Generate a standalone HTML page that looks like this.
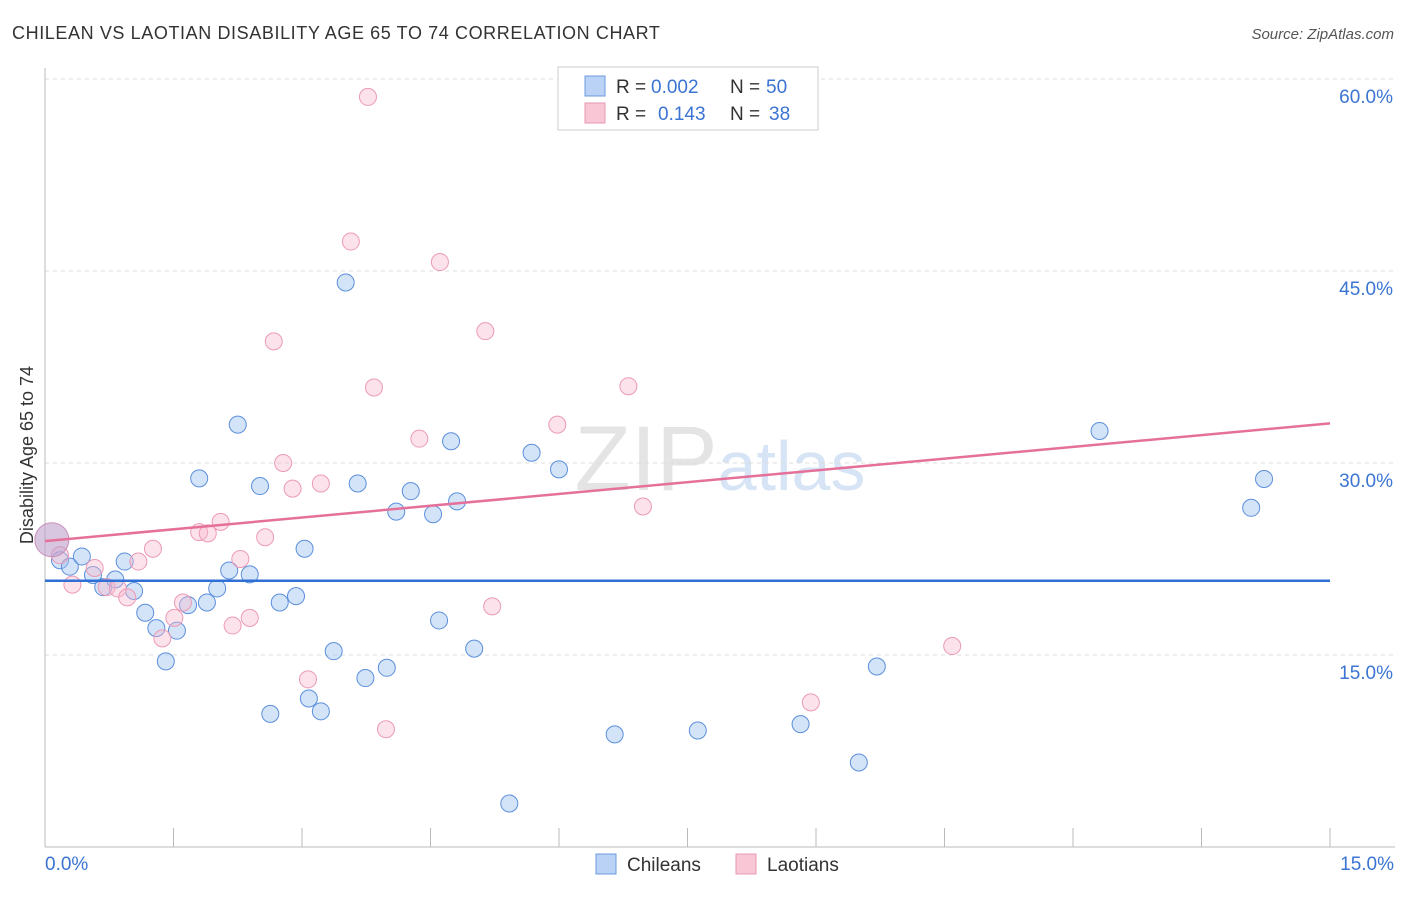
<!DOCTYPE html>
<html><head><meta charset="utf-8"><style>
body{margin:0;background:#fff;font-family:"Liberation Sans",sans-serif}
svg text{font-family:"Liberation Sans",sans-serif}
</style></head><body>
<svg width="1406" height="892" viewBox="0 0 1406 892">
<text x="12" y="39" font-size="18" letter-spacing="0.6" fill="#333">CHILEAN VS LAOTIAN DISABILITY AGE 65 TO 74 CORRELATION CHART</text>
<text x="1394" y="39" font-size="15" fill="#555" text-anchor="end" font-style="italic">Source: ZipAtlas.com</text>
<text x="720" y="490" font-size="92" fill="#e4e4e4" text-anchor="middle" font-family="Liberation Serif">ZIP<tspan fill="#d6e4f5" font-family="Liberation Sans" font-size="70">atlas</tspan></text>
<g id="grid"></g>
<line x1="45" y1="68" x2="45" y2="847" stroke="#bbb"/>
<line x1="45" y1="847" x2="1395" y2="847" stroke="#bbb"/>
<text transform="translate(33,455) rotate(-90)" font-size="18" fill="#333" text-anchor="middle">Disability Age 65 to 74</text>
<text x="45" y="870" font-size="19" fill="#3b74d3">0.0%</text>
<text x="1394" y="870" font-size="19" fill="#3b74d3" text-anchor="end">15.0%</text>
<g id="marks"></g>
<g>
<rect x="558" y="67" width="260" height="63" fill="#fff" stroke="#ccc"/>
<rect x="585" y="76" width="20" height="20" fill="#b9d2f5" stroke="#6d9be0"/>
<rect x="585" y="103" width="20" height="20" fill="#f9c6d6" stroke="#e89ab3"/>
<text x="616" y="93" font-size="19" fill="#333">R =</text>
<text x="651" y="93" font-size="19" fill="#3b74d3">0.002</text>
<text x="730" y="93" font-size="19" fill="#333">N =</text>
<text x="766" y="93" font-size="19" fill="#3b74d3">50</text>
<text x="616" y="120" font-size="19" fill="#333">R =</text>
<text x="658" y="120" font-size="19" fill="#3b74d3">0.143</text>
<text x="730" y="120" font-size="19" fill="#333">N =</text>
<text x="769" y="120" font-size="19" fill="#3b74d3">38</text>
</g>
<g>
<rect x="596" y="854" width="20" height="20" fill="#b9d2f5" stroke="#6d9be0"/>
<text x="627" y="871" font-size="19" fill="#333">Chileans</text>
<rect x="736" y="854" width="20" height="20" fill="#f9c6d6" stroke="#e89ab3"/>
<text x="767" y="871" font-size="19" fill="#333">Laotians</text>
</g>
</svg>
<script>
const yTicks=[15,30,45,60];
const yTickLabels=["15.0%","30.0%","45.0%","60.0%"];
const xTicks=[1.5,3,4.5,6,7.5,9,10.5,12,13.5,15];
const chileX=[0.175,0.29,0.43,0.56,0.68,0.82,0.93,1.04,1.17,1.30,1.41,1.54,1.67,1.80,1.89,2.01,2.15,2.25,2.39,2.51,2.63,2.74,2.93,3.03,3.08,3.22,3.37,3.51,3.65,3.74,3.99,4.10,4.27,4.53,4.60,4.74,4.81,5.01,5.42,5.68,6.00,6.65,7.62,8.82,9.50,9.71,12.31,14.08,14.23];
const chileY=[22.4,21.9,22.7,21.25,20.3,20.9,22.3,20.0,18.3,17.1,14.5,16.9,18.9,28.8,19.1,20.2,21.6,33.0,21.3,28.2,10.4,19.1,19.6,23.3,11.6,10.6,15.3,44.1,28.4,13.2,14.0,26.2,27.8,26.0,17.7,31.7,27.0,15.5,3.4,30.8,29.5,8.8,9.1,9.6,6.6,14.1,32.5,26.5,28.75];
const laoX=[0.175,0.32,0.58,0.72,0.85,0.96,1.09,1.26,1.37,1.51,1.61,1.80,1.90,2.05,2.19,2.28,2.39,2.57,2.67,2.78,2.89,3.07,3.22,3.57,3.77,3.84,3.98,4.37,4.61,5.14,5.22,5.98,6.81,6.98,8.94,10.59];
const laoY=[22.8,20.5,21.8,20.3,20.2,19.5,22.3,23.3,16.3,17.9,19.1,24.6,24.5,25.4,17.3,22.5,17.9,24.2,39.5,30.0,28.0,13.1,28.4,47.3,58.6,35.9,9.2,31.9,45.7,40.3,18.8,33.0,36.0,26.6,11.3,15.7];
const bigX=[0.08],bigY=[24.0];
const chileTrend=[20.8,20.8];
const laoTrend=[23.9,33.1];
const xs=v=>45+v*(1285/15);
const ys=v=>847-v*12.8;
const NS="http://www.w3.org/2000/svg";
const grid=document.getElementById('grid'),marks=document.getElementById('marks');
function mk(tag,attrs,parent){const e=document.createElementNS(NS,tag);for(const k in attrs)e.setAttribute(k,attrs[k]);parent.appendChild(e);return e;}
yTicks.forEach((t,i)=>{
 const l=mk('line',{x1:45,x2:1395,y1:ys(t),y2:ys(t),stroke:'#ddd','stroke-dasharray':'4,4'},grid);
 
 
 const tx=mk('text',{x:1393,y:ys(t)+24,'font-size':19,fill:'#3b74d3','text-anchor':'end'},grid);
 tx.textContent=yTickLabels[i];
 
 
});
xTicks.forEach(t=>{
 const l=mk('line',{x1:xs(t),x2:xs(t),y1:828,y2:847,stroke:'#bbb'},grid);
 
 
});
chileX.forEach((x,i)=>{
 const c=mk('circle',{cx:xs(x),cy:ys(chileY[i]),r:8.5,fill:'rgba(160,195,240,0.45)',stroke:'#5b8fdc','stroke-width':1},marks);
 
 
});
laoX.forEach((x,i)=>{
 const c=mk('circle',{cx:xs(x),cy:ys(laoY[i]),r:8.5,fill:'rgba(248,185,205,0.4)',stroke:'#ec9ab5','stroke-width':1},marks);
 
 
});
bigX.forEach((x,i)=>{
 const c=mk('circle',{cx:xs(x),cy:ys(bigY[i]),r:17,fill:'rgba(190,160,205,0.6)',stroke:'#c88fb8','stroke-width':1},marks);
 
 
});
const l1=mk('line',{x1:xs(0),x2:xs(15),y1:ys(chileTrend[0]),y2:ys(chileTrend[1]),stroke:'#2f6fd6','stroke-width':2.5},marks);


const l2=mk('line',{x1:xs(0),x2:xs(15),y1:ys(laoTrend[0]),y2:ys(laoTrend[1]),stroke:'#e5709a','stroke-width':2.5},marks);


</script>
</body></html>
